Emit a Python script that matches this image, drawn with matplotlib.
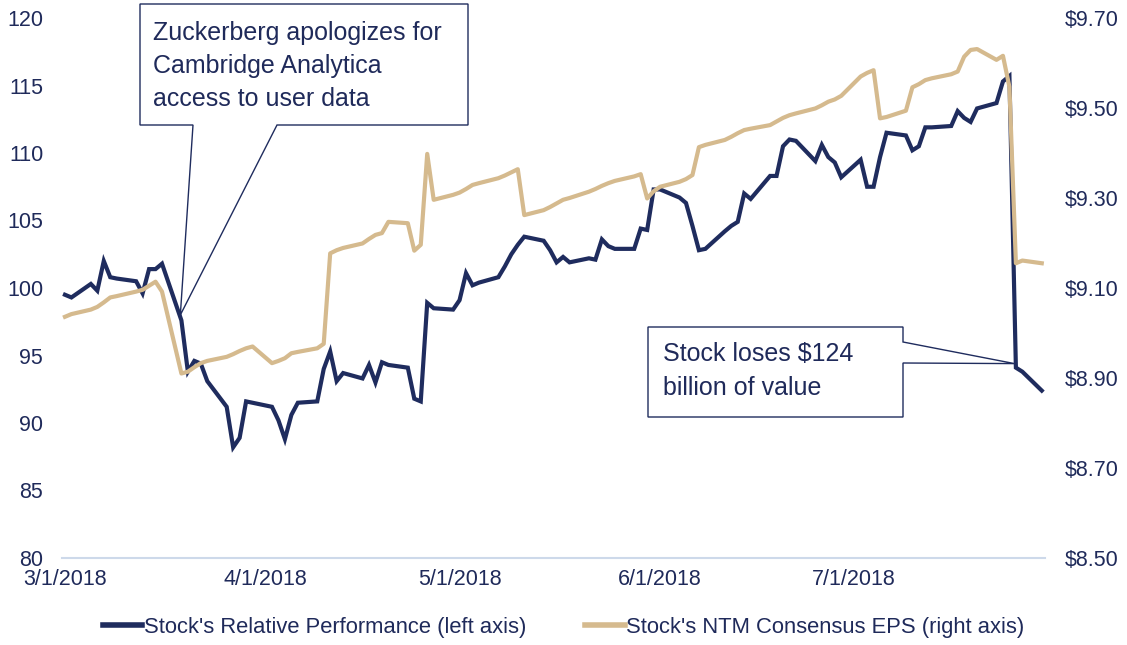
import numpy as np
import pandas as pd
import matplotlib
matplotlib.use("Agg")
import matplotlib.pyplot as plt
import matplotlib.dates as mdates
from matplotlib.patches import Polygon
from matplotlib.transforms import IdentityTransform

plt.rcParams['font.family'] = ['Liberation Sans', 'DejaVu Sans']

# weekdays incl. market holidays (values carried on those days)
dates = pd.bdate_range('2018-03-01', '2018-07-30')

# Stock's relative performance (left axis)
perf = [
    99.5, 99.3, 100.3, 99.8, 102.0, 100.8, 100.7, 100.5, 99.6, 101.4, 101.4,
    101.8, 97.6, 93.8, 94.6, 94.4, 93.1, 91.2, 88.2, 88.9, 91.6, 91.5,
    91.2, 90.2, 88.8, 90.6, 91.5, 91.6, 94.0, 95.3, 93.1, 93.7, 93.3,
    94.3, 93.0, 94.5, 94.3, 94.1, 91.8, 91.6, 98.9, 98.5, 98.4,
    99.1, 101.1, 100.2, 100.4, 100.8, 101.6, 102.5, 103.2, 103.8, 103.5, 102.8,
    101.9, 102.3, 101.9, 102.2, 102.1, 103.6, 103.1, 102.9, 102.9, 104.4, 104.3,
    107.3,
    107.3, 106.7, 106.3, 104.6, 102.8, 102.9, 104.2, 104.6, 104.9, 107.0, 106.6,
    108.3, 108.3, 110.5, 111.0, 110.9, 109.4, 110.6, 109.7, 109.3, 108.2,
    109.5, 107.5, 107.5, 109.7, 111.5, 111.3, 110.2, 110.5, 111.9, 111.9, 112.0,
    113.1, 112.6, 112.3, 113.3, 113.7, 115.3, 115.7, 94.1, 93.8, 92.4,
]

# Stock's NTM consensus EPS (right axis)
eps = [
    9.036, 9.042, 9.052, 9.058, 9.068, 9.079, 9.082, 9.092, 9.096, 9.105, 9.114,
    9.092, 8.910, 8.914, 8.924, 8.933, 8.938, 8.947, 8.953, 8.960, 8.966, 8.970,
    8.933, 8.938, 8.944, 8.955, 8.958, 8.966, 8.976, 9.177, 9.184, 9.189, 9.199,
    9.209, 9.218, 9.222, 9.247, 9.244, 9.183, 9.196, 9.398, 9.296, 9.307,
    9.312, 9.320, 9.329, 9.333, 9.344, 9.350, 9.357, 9.364, 9.262, 9.273, 9.280,
    9.288, 9.296, 9.300, 9.314, 9.320, 9.327, 9.333, 9.338, 9.348, 9.353, 9.299,
    9.315,
    9.325, 9.336, 9.342, 9.351, 9.413, 9.418, 9.429, 9.436, 9.444, 9.451, 9.454,
    9.462, 9.470, 9.478, 9.484, 9.488, 9.499, 9.506, 9.514, 9.519, 9.527,
    9.570, 9.578, 9.584, 9.477, 9.480, 9.494, 9.546, 9.553, 9.562, 9.566, 9.575,
    9.581, 9.614, 9.629, 9.631, 9.607, 9.616, 9.547, 9.155, 9.161, 9.155,
]

xticks = ['2018-03-01', '2018-04-01', '2018-05-01', '2018-06-01', '2018-07-01']
xtick_labels = ['3/1/2018', '4/1/2018', '5/1/2018', '6/1/2018', '7/1/2018']
left_ticks = [80, 85, 90, 95, 100, 105, 110, 115, 120]
right_ticks = [8.50, 8.70, 8.90, 9.10, 9.30, 9.50, 9.70]

navy = '#1f2c5e'
tan = '#d5ba8e'
txt = '#1f2a5a'

W, H = 1127, 645
fig = plt.figure(figsize=(W / 100, H / 100), dpi=100)
ax = fig.add_axes([62 / W, 87 / H, 983 / W, 540 / H])
ax2 = ax.twinx()

ax.plot(dates, perf, color=navy, lw=3.0, solid_joinstyle='miter',
        label="Stock's Relative Performance (left axis)", zorder=3)
ax2.plot(dates, eps, color=tan, lw=3.0,
         label="Stock's NTM Consensus EPS (right axis)", zorder=2)

d0 = pd.Timestamp('2018-03-01')
ax.set_xlim(d0 - pd.Timedelta(hours=11), d0 + pd.Timedelta(hours=151.5 * 24))
ax.set_ylim(80, 120)
ax2.set_ylim(8.50, 9.70)

ax.set_xticks(pd.to_datetime(xticks))
ax.set_xticklabels(xtick_labels)
ax.set_yticks(left_ticks)
ax.set_yticklabels([str(v) for v in left_ticks])
ax2.set_yticks(right_ticks)
ax2.set_yticklabels(['$%.2f' % v for v in right_ticks])

for a in (ax, ax2):
    for s in a.spines.values():
        s.set_visible(False)
    a.tick_params(length=0, labelsize=15.5, colors=txt)
ax.spines['bottom'].set_visible(True)
ax.spines['bottom'].set_color('#cdd9ea')
ax.spines['bottom'].set_linewidth(1.5)
ax.tick_params(axis='y', pad=13.5)
ax.tick_params(axis='x', pad=8)
ax2.tick_params(axis='y', pad=14.5)

# legend
h1, l1 = ax.get_legend_handles_labels()
h2, l2 = ax2.get_legend_handles_labels()
leg = fig.legend(h1 + h2, l1 + l2, loc='center', bbox_to_anchor=(0.5, 18 / H),
                 ncol=2, frameon=False, fontsize=15.8, handlelength=1.8,
                 handletextpad=0.05, columnspacing=2.7)
for t in leg.get_texts():
    t.set_color(txt)
for ln in leg.get_lines():
    ln.set_linewidth(4)

fig.canvas.draw()


def callout(box, gap, tip, side):
    # box = (x0, y0, x1, y1) in image px (top-left origin), tip in display px
    x0, y0, x1, y1 = box
    g0, g1 = gap
    if side == 'bottom':
        pts = [(x0, y0), (x1, y0), (x1, y1), (g1, y1), 'tip', (g0, y1), (x0, y1)]
    else:
        pts = [(x0, y0), (x1, y0), (x1, g0), 'tip', (x1, g1), (x1, y1), (x0, y1)]
    verts = []
    for p in pts:
        if p == 'tip':
            verts.append(tip)
        else:
            verts.append((p[0], H - p[1]))
    poly = Polygon(verts, closed=True, facecolor='white', edgecolor=navy,
                   lw=1.0, transform=IdentityTransform(), zorder=10)
    fig.add_artist(poly)


tip1 = ax.transData.transform((mdates.date2num(pd.Timestamp('2018-03-18 20:00')), 98.0))
callout((140, 4, 468, 125), (193, 277), tip1, 'bottom')
fig.text(153 / W, 1 - 66 / H,
         'Zuckerberg apologizes for\nCambridge Analytica\naccess to user data',
         fontsize=18, color=txt, va='center', ha='left',
         linespacing=1.48, zorder=11)

tip2 = ax.transData.transform((mdates.date2num(pd.Timestamp('2018-07-25 19:00')), 94.4))
callout((648, 327, 903, 417), (342, 363), tip2, 'right')
fig.text(663 / W, 1 - 371 / H, 'Stock loses $124\nbillion of value',
         fontsize=18, color=txt, va='center', ha='left',
         linespacing=1.48, zorder=11)

fig.savefig('out.png', dpi=100)
